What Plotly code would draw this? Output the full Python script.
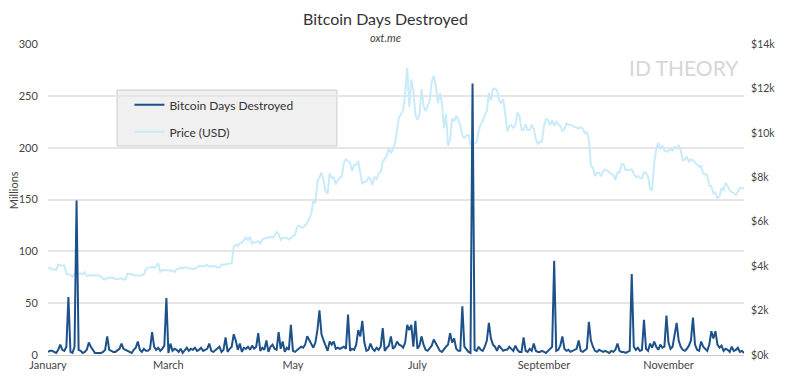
import datetime as dt
import plotly.graph_objects as go

start = dt.date(2019, 1, 1)

# Bitcoin Days Destroyed, millions, daily from 2019-01-01
bdd_jan = [3, 4, 4, 3, 2, 5, 10, 5, 4, 8, 56, 3, 2, 8, 149, 5, 4, 2, 3, 5, 12, 8, 5, 2, 2, 2, 2, 3, 5, 18, 5]
bdd_feb = [4, 3, 3, 5, 6, 11, 6, 5, 4, 3, 2, 5, 7, 13, 5, 3, 6, 4, 4, 6, 22, 8, 5, 7, 4, 6, 9, 55]
bdd_mar = [2, 11, 4, 6, 5, 3, 6, 2, 5, 7, 4, 6, 5, 7, 4, 5, 7, 4, 5, 6, 11, 4, 3, 5, 6, 8, 3, 5, 17, 3, 6]
bdd_apr = [8, 20, 14, 5, 11, 3, 7, 6, 8, 5, 9, 6, 8, 21, 4, 7, 5, 14, 3, 8, 10, 6, 5, 22, 6, 13, 3, 7, 5, 29]
bdd_may = [4, 3, 5, 7, 8, 7, 10, 18, 14, 10, 7, 12, 24, 43, 20, 14, 8, 4, 13, 10, 13, 6, 7, 6, 7, 8, 6, 39, 4, 6, 5]
bdd_jun = [10, 24, 18, 33, 12, 4, 5, 11, 6, 4, 7, 5, 8, 26, 4, 7, 9, 18, 6, 8, 13, 10, 9, 7, 12, 29, 24, 29, 8, 33]
bdd_jul = [6, 9, 18, 10, 5, 4, 7, 9, 15, 11, 8, 4, 3, 6, 8, 10, 21, 12, 16, 6, 4, 4, 47, 8, 5, 3, 2, 262, 5, 4, 8]
bdd_aug = [5, 4, 8, 14, 31, 16, 10, 8, 4, 9, 7, 4, 5, 5, 8, 6, 4, 9, 5, 3, 3, 17, 4, 3, 6, 4, 11, 4, 3, 3, 4]
bdd_sep = [3, 2, 4, 6, 8, 91, 4, 5, 9, 18, 6, 4, 5, 3, 4, 5, 6, 14, 4, 3, 5, 6, 32, 14, 8, 4, 3, 5, 4, 3]
bdd_oct = [4, 3, 2, 4, 3, 5, 11, 4, 3, 3, 2, 3, 4, 78, 8, 5, 7, 4, 5, 34, 6, 4, 11, 7, 13, 8, 5, 10, 7, 8, 38]
bdd_nov = [12, 6, 8, 20, 31, 14, 8, 5, 4, 6, 9, 14, 36, 10, 5, 4, 13, 8, 6, 4, 10, 23, 16, 23, 10, 7, 9, 4, 6, 5]
bdd_dec = [3, 8, 4, 5, 7, 3, 4, 2]

# Price (USD, thousands), daily from 2019-01-01
px_jan = [3.87, 3.94, 3.84, 3.86, 3.83, 4.08, 4.03, 4.04, 4.03, 3.65, 3.63, 3.62, 3.51, 3.66, 3.61, 3.64,
          3.68, 3.63, 3.73, 3.54, 3.56, 3.60, 3.57, 3.60, 3.58, 3.58, 3.53, 3.43, 3.40, 3.47, 3.46]
px_feb = [3.49, 3.48, 3.41, 3.42, 3.43, 3.45, 3.40, 3.40, 3.66, 3.66, 3.64, 3.59, 3.60, 3.58, 3.57, 3.61,
          3.63, 3.88, 3.91, 3.95, 3.97, 3.92, 4.00, 4.13, 3.75, 3.83, 3.81, 3.82]
px_mar = [3.82, 3.81, 3.79, 3.74, 3.86, 3.87, 3.94, 3.90, 3.96, 3.93, 3.88, 3.90, 3.87, 3.89, 3.93, 4.02,
          4.00, 3.99, 4.03, 4.05, 3.98, 4.00, 4.01, 4.00, 3.94, 3.95, 4.08, 4.05, 4.09, 4.11, 4.12]
px_apr = [4.14, 4.88, 4.97, 4.90, 5.04, 5.06, 5.20, 5.29, 5.17, 5.32, 5.02, 5.07, 5.07, 5.13, 5.02, 5.20,
          5.23, 5.28, 5.28, 5.32, 5.28, 5.37, 5.54, 5.43, 5.19, 5.27, 5.28, 5.28, 5.20, 5.29]
px_may = [5.35, 5.40, 5.75, 5.83, 5.75, 5.74, 5.83, 5.94, 6.15, 6.35, 7.00, 6.82, 7.81, 7.99, 8.21, 7.88,
          7.36, 7.26, 8.19, 7.98, 7.98, 7.68, 7.88, 7.99, 8.05, 8.67, 8.81, 8.72, 8.66, 8.27, 8.56]
px_jun = [8.55, 8.74, 8.20, 7.69, 7.80, 7.80, 8.00, 7.92, 7.65, 8.00, 7.92, 8.17, 8.23, 8.69, 8.84, 8.97,
          9.32, 9.08, 9.27, 9.53, 10.14, 10.70, 10.85, 11.01, 11.78, 12.93, 11.16, 12.40, 11.93, 10.82]
px_jul = [10.58, 10.80, 11.96, 11.21, 10.98, 11.21, 11.45, 12.29, 12.57, 12.10, 11.34, 11.80, 11.35, 10.20,
          10.85, 9.42, 9.68, 10.65, 10.53, 10.76, 10.59, 10.32, 9.88, 9.77, 9.88, 9.91, 9.47, 9.53, 9.51,
          9.59, 10.09]
px_aug = [10.40, 10.52, 10.82, 10.98, 11.81, 11.47, 11.98, 11.99, 11.92, 11.48, 11.35, 11.52, 10.85, 10.05,
          10.30, 10.36, 10.23, 10.34, 10.92, 10.76, 10.14, 10.13, 10.38, 10.12, 10.14, 10.37, 10.18, 9.72,
          9.50, 9.61, 9.59]
px_sep = [10.31, 10.63, 10.58, 10.33, 10.58, 10.32, 10.49, 10.39, 10.31, 10.10, 10.16, 10.42, 10.36, 10.36,
          10.30, 10.27, 10.24, 10.19, 10.26, 10.18, 9.99, 10.03, 9.70, 8.53, 8.43, 8.06, 8.21, 8.19, 8.05, 8.29]
px_oct = [8.34, 8.30, 8.22, 8.14, 8.12, 7.88, 8.22, 8.21, 8.59, 8.59, 8.32, 8.34, 8.34, 8.35, 8.16, 8.00,
          8.06, 7.96, 7.95, 8.22, 8.21, 8.02, 7.47, 7.43, 8.66, 9.26, 9.55, 9.26, 9.43, 9.21, 9.15]
px_nov = [9.20, 9.26, 9.20, 9.37, 9.30, 9.42, 9.21, 8.76, 8.80, 8.94, 8.71, 8.80, 8.76, 8.66, 8.55, 8.48,
          8.51, 8.17, 8.13, 8.09, 7.62, 7.60, 7.28, 7.32, 7.05, 7.15, 7.52, 7.43, 7.76, 7.57]
px_dec = [7.42, 7.32, 7.30, 7.20, 7.39, 7.53, 7.50, 7.52]

left_ticks = [0, 50, 100, 150, 200, 250, 300]
right_ticks = [0, 2000, 4000, 6000, 8000, 10000, 12000, 14000]
right_labels = ["$0k", "$2k", "$4k", "$6k", "$8k", "$10k", "$12k", "$14k"]
month_ticks = ["2019-01-01", "2019-03-01", "2019-05-01", "2019-07-01", "2019-09-01", "2019-11-01"]
month_labels = ["January", "March", "May", "July", "September", "November"]

bdd = bdd_jan + bdd_feb + bdd_mar + bdd_apr + bdd_may + bdd_jun + bdd_jul + bdd_aug + bdd_sep + bdd_oct + bdd_nov + bdd_dec
price_k = px_jan + px_feb + px_mar + px_apr + px_may + px_jun + px_jul + px_aug + px_sep + px_oct + px_nov + px_dec
price = [p * 1000 for p in price_k]
dates_b = [start + dt.timedelta(days=i) for i in range(len(bdd))]
dates_p = [start + dt.timedelta(days=i) for i in range(len(price))]

FONT = "Lato"
fig = go.Figure()
fig.add_trace(go.Scatter(x=dates_p, y=price, name="Price (USD)", mode="lines",
                         line=dict(color="#c9ebf9", width=2), yaxis="y", legendgroup="b",
                         legendrank=2))
fig.add_trace(go.Scatter(x=dates_b, y=bdd, name="Bitcoin Days Destroyed", mode="lines",
                         line=dict(color="#1d5189", width=2), yaxis="y2", legendgroup="a",
                         legendrank=1))

# page body has an 8px margin, so the figure is sized/offset to fill the 785x380 window
fig.update_layout(
    width=777, height=372,
    margin=dict(l=40, r=41, t=36, b=25, autoexpand=False),
    paper_bgcolor="white", plot_bgcolor="white",
    font=dict(family=FONT, size=11, color="#555555"),
    showlegend=True,
    legend=dict(x=0.117, y=0.851, xanchor="left", yanchor="top", bgcolor="rgba(0,0,0,0)",
                borderwidth=0, font=dict(size=12, color="#333333"), tracegroupgap=8,
                traceorder="grouped"),
    xaxis=dict(type="date", range=["2019-01-01", "2019-12-08"], tickvals=month_ticks,
               ticktext=month_labels, showgrid=False, zeroline=False, showline=True,
               linecolor="#cccccc", linewidth=1, ticks="", automargin=False,
               tickfont=dict(size=11, color="#444")),
    yaxis=dict(range=[0, 14000], side="right", tickvals=right_ticks, ticktext=right_labels,
               showgrid=False, zeroline=False, ticks="outside", ticklen=4, tickcolor="white",
               automargin=False, tickfont=dict(size=10.5, color="#444")),
    yaxis2=dict(range=[0, 300], side="left", overlaying="y", tickvals=left_ticks,
                showgrid=True, gridcolor="#e6e6e6", gridwidth=1.5, zeroline=False,
                ticks="outside", ticklen=7, tickcolor="white", automargin=False,
                tickfont=dict(size=11, color="#444")),
    shapes=[dict(type="rect", xref="paper", yref="paper", x0=0.0991, x1=0.4152, y0=0.672, y1=0.852,
                 fillcolor="#f0f0f0", line=dict(color="#cccccc", width=1), layer="below")],
    annotations=[
        dict(text="Bitcoin Days Destroyed", xref="paper", yref="paper", x=0.5, y=1.0,
             yshift=26, xanchor="center", yanchor="middle", showarrow=False,
             font=dict(size=16, color="#333333", family=FONT), xshift=-11),
        dict(text="<i>oxt.me</i>", xref="paper", yref="paper", x=0.5, y=1.0, yshift=7,
             xanchor="center", yanchor="middle", showarrow=False,
             font=dict(size=11, color="#444444", family=FONT), xshift=-11),
        dict(text="Millions", xref="paper", yref="paper", x=0.0, y=0.53, xshift=-35,
             xanchor="center", yanchor="middle", textangle=-90, showarrow=False,
             font=dict(size=11, color="#444444", family=FONT)),
        dict(text="ID THEORY", xref="paper", yref="paper", x=0.914, y=0.925, xanchor="center",
             yanchor="middle", showarrow=False,
             font=dict(size=21, color="#d6d6d6", family=FONT)),
    ],
)

fig.write_html("out.html")
